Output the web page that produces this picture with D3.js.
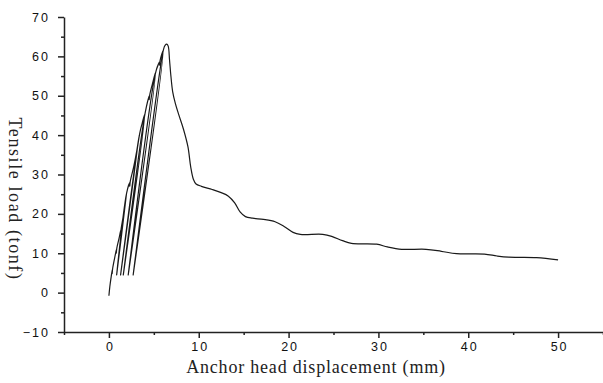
<!DOCTYPE html>
<html lang="en">
<head>
    <meta charset="UTF-8">
    <title>Tensile load vs anchor head displacement</title>
    <style>
        body { margin: 0; background: #fff; }
        .tick text { font-family: "Liberation Sans", Arial, sans-serif; font-size: 12.5px; letter-spacing: 2px; fill: #111; }
        .axis-title { font-family: "Liberation Serif", "DejaVu Serif", serif; font-size: 18px; fill: #222; }
    </style>
</head>
<body>
    <div id="chart"></div>
    <script src="https://cdn.jsdelivr.net/npm/d3@7"></script>
    <script>
        // Load trace: cyclic loading, then post-peak decay
        const displacement = [
            0.0, 0.1, 0.25, 0.38, 0.36, 0.42, 0.7, 0.84, 0.82, 0.88, 1.15, 1.32, 1.3, 1.36, 1.6, 1.95,
            0.86, 1.97, 2.34, 2.32, 2.38, 2.78, 3.1, 3.38,
            1.3, 3.42, 3.7, 4.0,
            1.6, 4.03, 4.5, 4.48, 4.55, 4.9, 5.2,
            2.15, 5.25, 5.67, 5.65, 5.7, 6.04,
            2.7, 6.08, 6.25, 6.45, 6.6, 6.75, 6.9, 7.1, 7.4, 7.8, 8.3, 8.8, 9.1, 9.4, 9.7,
            10.3, 11.5, 12.5, 13.3, 14.0, 14.6, 15.2, 16.0, 17.2, 18.5, 19.5, 20.5, 21.3,
            23.8, 24.8, 26.0, 27.0, 29.8, 31.0, 32.6, 35.3, 37.0, 38.7, 41.8, 43.2, 44.5, 47.6, 50.0
        ];
        const load = [
            -0.8, 1.5, 4.0, 5.9, 4.8, 6.2, 9.5, 11.0, 10.0, 11.3, 14.0, 15.9, 14.9, 16.2, 19.5, 25.0,
            4.5, 25.3, 28.0, 27.0, 28.3, 32.2, 36.0, 40.0,
            4.5, 40.3, 43.0, 45.4,
            4.5, 45.6, 50.0, 49.0, 50.3, 53.5, 56.0,
            4.5, 56.3, 58.6, 57.8, 59.0, 61.5,
            4.5, 61.8, 62.8, 63.1, 62.6, 59.0, 55.0, 51.0, 48.0, 45.0, 41.5, 37.0, 32.0, 28.8, 27.6,
            27.0, 26.2, 25.4, 24.5, 22.8, 20.5, 19.3, 18.9, 18.6, 18.0, 16.8, 15.3, 14.8,
            14.8, 14.3, 13.2, 12.5, 12.3, 11.6, 11.0, 11.0, 10.5, 9.9, 9.8, 9.3, 9.0, 8.9, 8.3
        ];

        const xMajorTicks = [0, 10, 20, 30, 40, 50];
        const xMinorTicks = [-5, 5, 15, 25, 35, 45, 55];
        const yMajorTicks = [-10, 0, 10, 20, 30, 40, 50, 60, 70];
        const yMinorTicks = [-5, 5, 15, 25, 35, 45, 55, 65];

        const xTitle = "Anchor head displacement (mm)";
        const yTitle = "Tensile load (tonf)";

        const width = 603;
        const height = 383;
        const marginLeft = 64;
        const marginRight = 0;
        const marginTop = 17;
        const axisY = 332;

        const x = d3.scaleLinear().domain([-5, 55]).range([marginLeft, width - marginRight]);
        const y = d3.scaleLinear().domain([-10, 70]).range([axisY, marginTop]);

        const svg = d3.select("#chart").append("svg")
            .attr("width", width)
            .attr("height", height)
            .attr("viewBox", [0, 0, width, height]);

        // curve
        const points = displacement.map((d, i) => [d, load[i]]);
        const line = d3.line()
            .x(d => x(d[0]))
            .y(d => y(d[1]))
            .curve(d3.curveCatmullRom.alpha(0.5));

        svg.append("path")
            .datum(points)
            .attr("fill", "none")
            .attr("stroke", "#1a1a1a")
            .attr("stroke-width", 1.2)
            .attr("stroke-linejoin", "round")
            .attr("d", line);

        // axes: minor ticks first, then major ticks with labels
        svg.append("g")
            .attr("transform", `translate(0,${axisY})`)
            .call(d3.axisBottom(x).tickValues(xMinorTicks).tickSize(3).tickFormat(""))
            .call(g => g.select(".domain").remove());
        svg.append("g")
            .attr("transform", `translate(0,${axisY})`)
            .call(d3.axisBottom(x).tickValues(xMajorTicks).tickSize(6).tickSizeOuter(0).tickPadding(4.5))
            .call(g => g.selectAll(".tick text").attr("dx", 1));

        svg.append("g")
            .attr("transform", `translate(${marginLeft},0)`)
            .call(d3.axisLeft(y).tickValues(yMinorTicks).tickSize(3).tickFormat(""))
            .call(g => g.select(".domain").remove());
        svg.append("g")
            .attr("transform", `translate(${marginLeft},0)`)
            .call(d3.axisLeft(y).tickValues(yMajorTicks).tickSize(6).tickSizeOuter(0).tickPadding(8));

        svg.selectAll(".domain, .tick line")
            .attr("stroke", "#222")
            .attr("stroke-width", 1.5);

        // axis titles
        svg.append("text")
            .attr("class", "axis-title")
            .attr("x", 316)
            .attr("y", 373)
            .attr("text-anchor", "middle")
            .attr("letter-spacing", 0.8)
            .text(xTitle);

        svg.append("text")
            .attr("class", "axis-title")
            .attr("transform", "translate(9,199) rotate(90)")
            .attr("text-anchor", "middle")
            .attr("letter-spacing", 1.6)
            .text(yTitle);
    </script>
</body>
</html>
